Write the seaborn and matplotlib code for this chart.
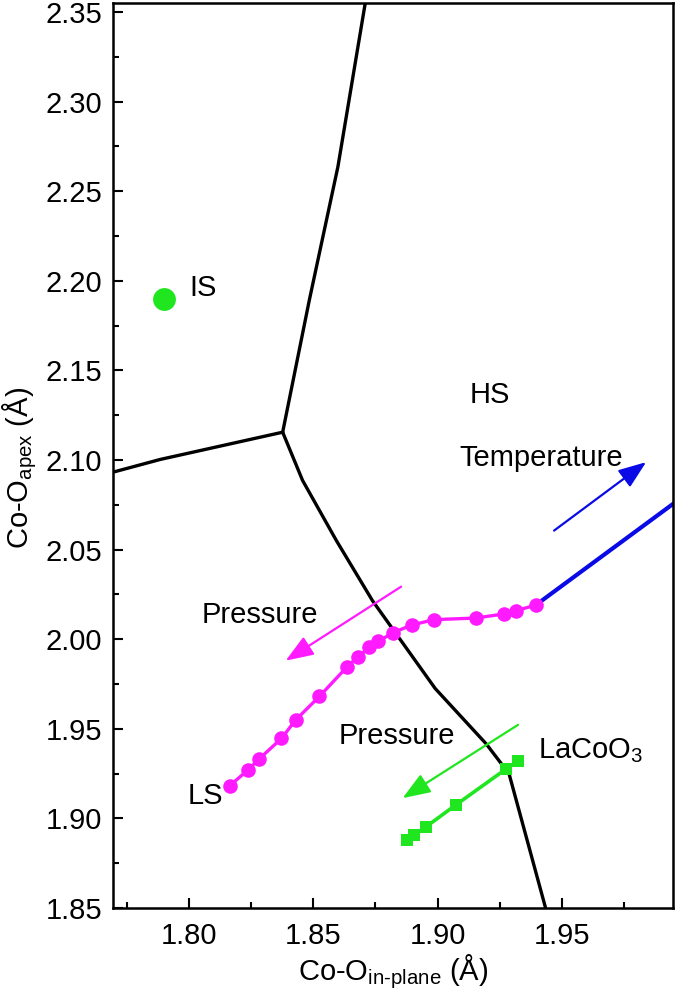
import matplotlib
matplotlib.use("Agg")
import matplotlib.pyplot as plt
import seaborn as sns
from matplotlib.ticker import MultipleLocator, FormatStrFormatter

# phase boundaries
b_left_x = [1.7695, 1.7885, 1.8377]
b_left_y = [2.0932, 2.1003, 2.1155]
b_up_x = [1.8377, 1.8484, 1.8599, 1.8709, 1.8716]
b_up_y = [2.1155, 2.1891, 2.2636, 2.3550, 2.3600]
b_down_x = [1.8377, 1.8457, 1.8593, 1.8738, 1.8990, 1.9195, 1.9287, 1.9435, 1.9450]
b_down_y = [2.1155, 2.0886, 2.0550, 2.0215, 1.9725, 1.9416, 1.9249, 1.8494, 1.8420]

# magenta series (LS -> HS)
mag_x = [1.8164, 1.8238, 1.8282, 1.8372, 1.8429, 1.8525, 1.8636, 1.8679, 1.8726,
         1.8762, 1.8819, 1.8895, 1.8986, 1.9153, 1.9267, 1.9314, 1.9394]
mag_y = [1.9182, 1.9271, 1.9331, 1.9446, 1.9549, 1.9681, 1.9846, 1.9902, 1.9954,
         1.9988, 2.0035, 2.0079, 2.0109, 2.0118, 2.0141, 2.0159, 2.0190]

# blue temperature line
blue_x = [1.9394, 2.0000]
blue_y = [2.0190, 2.0810]

# LaCoO3 squares
lco_x = [1.9323, 1.9274, 1.9073, 1.8953, 1.8906, 1.8875]
lco_y = [1.9321, 1.9275, 1.9075, 1.8953, 1.8906, 1.8878]

# IS point
is_x = [1.790]
is_y = [2.190]

# arrows: (tail, tip)
arr_temp = [(1.9468, 2.0606), (1.9838, 2.0988)]
arr_pmag = [(1.8853, 2.0293), (1.8389, 1.9880)]
arr_pgrn = [(1.9323, 1.9522), (1.8859, 1.9113)]

GREEN = "#1fe61f"
MAGENTA = "#ff1aff"
BLUE = "#0a0ae6"

sns.set_style("ticks")
plt.rcParams["font.family"] = ["Liberation Sans", "DejaVu Sans"]
plt.rcParams["mathtext.fontset"] = "custom"
plt.rcParams["mathtext.rm"] = "Liberation Sans"
plt.rcParams["mathtext.it"] = "Liberation Sans:italic"
plt.rcParams["mathtext.bf"] = "Liberation Sans:bold"
plt.rcParams["text.color"] = "black"
plt.rcParams["axes.labelcolor"] = "black"

fig = plt.figure(figsize=(6.75, 9.97), dpi=100)
ax = fig.add_axes([113 / 675, 1 - 908 / 997, 560 / 675, 905 / 997])

for bx, by in [(b_left_x, b_left_y), (b_up_x, b_up_y), (b_down_x, b_down_y)]:
    sns.lineplot(x=bx, y=by, sort=False, estimator=None, color="black", lw=2.4, ax=ax)

sns.lineplot(x=blue_x, y=blue_y, sort=False, estimator=None, color=BLUE, lw=3, ax=ax)
sns.lineplot(x=mag_x, y=mag_y, sort=False, estimator=None, color=MAGENTA, lw=2.4,
             marker="o", markersize=10.5, markeredgewidth=0, ax=ax)
sns.lineplot(x=lco_x, y=lco_y, sort=False, estimator=None, color=GREEN, lw=2.6,
             marker="s", markersize=8.5, markeredgewidth=0, ax=ax)
sns.scatterplot(x=is_x, y=is_y, color=GREEN, s=270, linewidth=0, ax=ax)

for (tail, tip), col in [(arr_temp, BLUE), (arr_pmag, MAGENTA), (arr_pgrn, GREEN)]:
    ax.annotate("", xy=tip, xytext=tail,
                arrowprops=dict(arrowstyle="-|>,head_length=0.85,head_width=0.32",
                                color=col, lw=1.6, mutation_scale=20,
                                shrinkA=0, shrinkB=0))

fs = 21
ax.text(1.8004, 2.1913, "IS", fontsize=fs)
ax.text(1.9127, 2.1316, "HS", fontsize=fs)
ax.text(1.9087, 2.0969, "Temperature", fontsize=fs)
ax.text(1.8052, 2.0092, "Pressure", fontsize=fs)
ax.text(1.8601, 1.9416, "Pressure", fontsize=fs)
ax.text(1.9403, 1.9338, "LaCoO$_3$", fontsize=fs)
ax.text(1.7996, 1.9081, "LS", fontsize=fs)

ax.set_xlim(1.7695, 1.9946)
ax.set_ylim(1.85, 2.355)
ax.xaxis.set_major_locator(MultipleLocator(0.05))
ax.xaxis.set_minor_locator(MultipleLocator(0.025))
ax.yaxis.set_major_locator(MultipleLocator(0.05))
ax.yaxis.set_minor_locator(MultipleLocator(0.025))
ax.xaxis.set_major_formatter(FormatStrFormatter("%.2f"))
ax.yaxis.set_major_formatter(FormatStrFormatter("%.2f"))

ax.tick_params(which="both", direction="in", width=1.5, colors="black",
               labelsize=fs, top=False, right=False)
ax.tick_params(which="major", length=7.5)
ax.tick_params(which="minor", length=4)
ax.tick_params(axis="y", which="major", pad=8)
ax.tick_params(axis="x", which="major", pad=10)

for sp in ax.spines.values():
    sp.set_visible(True)
    sp.set_color("black")
    sp.set_linewidth(1.8)

ax.set_xlabel(r"Co-O$_{\text{in-plane}}$ (Å)", fontsize=fs, labelpad=2)
ax.set_ylabel(r"Co-O$_{\text{apex}}$ (Å)", fontsize=fs)
ax.yaxis.set_label_coords(-0.133, 0.486)

fig.savefig("out.png", dpi=100)
